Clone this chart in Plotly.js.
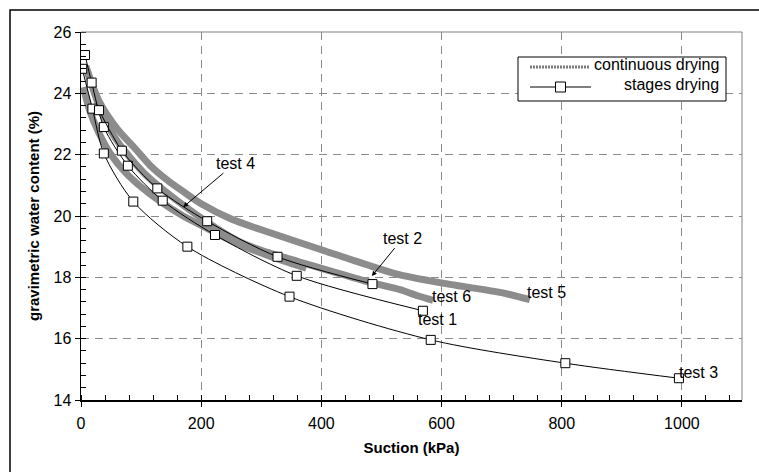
<!DOCTYPE html>
<html>
<head>
<meta charset="utf-8">
<script src="https://cdn.plot.ly/plotly-3.0.1.min.js"></script>
<style>
  html, body { margin: 0; padding: 0; background: #fff; }
  #chart { width: 759px; height: 472px; }
</style>
</head>
<body>
<div id="chart"></div>
<script>
// ---- data ----
// stage drying tests (thin black lines with square markers)
const test1X = [6.7, 17.7, 38, 78, 136, 223, 359, 569];
const test1Y = [25.25, 24.35, 22.9, 21.64, 20.5, 19.38, 18.05, 16.91];
const test2X = [30, 68, 127, 210, 327, 485];
const test2Y = [23.45, 22.13, 20.9, 19.83, 18.67, 17.78];
const test3X = [2, 19, 38, 87, 177, 347, 582, 806, 995];
const test3Y = [24.8, 23.5, 22.04, 20.47, 19.0, 17.37, 15.96, 15.2, 14.71];
// continuous drying tests (thick gray bands)
const test4X = [4, 15, 30, 50, 75, 100, 130, 170, 210, 260, 320, 375];
const test4Y = [24.2, 23.4, 22.7, 22.0, 21.4, 20.95, 20.5, 20.0, 19.6, 19.1, 18.65, 18.3];
const test5X = [8, 30, 60, 90, 115, 145, 170, 200, 250, 300, 400, 485, 531, 614, 700, 747];
const test5Y = [24.9, 23.75, 22.85, 22.2, 21.65, 21.15, 20.8, 20.4, 19.9, 19.55, 18.9, 18.35, 18.08, 17.77, 17.5, 17.27];
const test6X = [8, 30, 55, 80, 110, 150, 210, 260, 300, 364, 420, 485, 531, 560, 586];
const test6Y = [24.85, 23.6, 22.6, 21.95, 21.3, 20.65, 19.8, 19.2, 18.88, 18.5, 18.18, 17.82, 17.6, 17.4, 17.25];

const xTicks = [0, 200, 400, 600, 800, 1000];
const yTicks = [14, 16, 18, 20, 22, 24, 26];
const legendLabels = ["continuous drying", "stages drying"];
const xTitle = "Suction (kPa)";
const yTitle = "gravimetric water content (%)";

// ---- styles ----
const FONT = "Arial, 'Liberation Sans', sans-serif";
const bandColor = "#8c8c8c";

function band(x, y, name) {
  return { x: x, y: y, name: name, type: "scatter", mode: "lines",
    line: { color: bandColor, width: 7, shape: "spline", smoothing: 0.8 },
    showlegend: false, hoverinfo: "skip" };
}
function stage(x, y, name) {
  return { x: x, y: y, name: name, type: "scatter", mode: "lines+markers",
    line: { color: "#000", width: 1, shape: "spline", smoothing: 0.8 },
    marker: { symbol: "square", size: 9, color: "#fff", line: { color: "#000", width: 1 } },
    showlegend: false, hoverinfo: "skip" };
}

const traces = [
  band(test4X, test4Y, "test 4"),
  band(test6X, test6Y, "test 6"),
  band(test5X, test5Y, "test 5"),
  stage(test3X, test3Y, "test 3"),
  stage(test1X, test1Y, "test 1"),
  stage(test2X, test2Y, "test 2"),
  // empty trace so the overlay axes (inside half of the crossing major ticks) are drawn
  { x: [], y: [], xaxis: "x2", yaxis: "y2", type: "scatter", mode: "markers", showlegend: false, hoverinfo: "skip" }
];

const labelFont = { family: FONT, size: 16, color: "#000" };
const annotations = [
  { x: 170, y: 20.29, ax: 52, ay: -44, text: "test 4", showarrow: true,
    arrowhead: 2, arrowsize: 1, arrowwidth: 1, arrowcolor: "#000", font: labelFont },
  { x: 484, y: 18.04, ax: 31, ay: -38, text: "test 2", showarrow: true,
    arrowhead: 2, arrowsize: 1, arrowwidth: 1, arrowcolor: "#000", font: labelFont },
  { x: 617, y: 17.36, text: "test 6", showarrow: false, font: labelFont },
  { x: 775, y: 17.49, text: "test 5", showarrow: false, font: labelFont },
  { x: 594, y: 16.64, text: "test 1", showarrow: false, font: labelFont },
  { x: 1027, y: 14.91, text: "test 3", showarrow: false, font: labelFont },
  // legend texts (right aligned)
  { xref: "paper", yref: "paper", x: 0.968, y: 0.912, xanchor: "right", yanchor: "middle",
    text: legendLabels[0], showarrow: false, font: labelFont },
  { xref: "paper", yref: "paper", x: 0.968, y: 0.858, xanchor: "right", yanchor: "middle",
    text: legendLabels[1], showarrow: false, font: labelFont }
];

// paper coordinate helpers for legend box (plot area: x 81..742, y 32..400)
const W = 759, H = 472, L = 81, R = 742, T = 32, B = 400;
const px = v => (v - L) / (R - L);
const py = v => (B - v) / (B - T);

const shapes = [
  // outer frame
  { type: "rect", xref: "paper", yref: "paper", x0: px(10), x1: px(800), y0: py(520), y1: py(10),
    line: { color: "#000", width: 1.5 }, fillcolor: "rgba(0,0,0,0)", layer: "below" },
  // plot frame top / right (gray)
  { type: "line", xref: "paper", yref: "paper", x0: 0, x1: 1, y0: 1, y1: 1, line: { color: "#808080", width: 1 } },
  { type: "line", xref: "paper", yref: "paper", x0: 1, x1: 1, y0: 0, y1: 1, line: { color: "#808080", width: 1 } },
  // legend box
  { type: "rect", xref: "paper", yref: "paper", x0: px(518), x1: px(726), y0: py(101), y1: py(57),
    line: { color: "#000", width: 1 }, fillcolor: "#fff" },
  // legend samples
  { type: "line", xref: "paper", yref: "paper", x0: px(530), x1: px(590), y0: py(67), y1: py(67),
    line: { color: "#7a7a7a", width: 3, dash: "2px,1px" } },
  { type: "line", xref: "paper", yref: "paper", x0: px(530), x1: px(591), y0: py(87), y1: py(87),
    line: { color: "#000", width: 1 } },
  { type: "rect", xref: "paper", yref: "paper", x0: px(555.5), x1: px(565.5), y0: py(92), y1: py(82),
    line: { color: "#000", width: 1 }, fillcolor: "#fff" }
];

const layout = {
  width: W, height: H,
  margin: { l: L, r: W - R, t: T, b: H - B, pad: 0 },
  paper_bgcolor: "#fff", plot_bgcolor: "#fff",
  font: { family: FONT, size: 15, color: "#000" },
  showlegend: false,
  xaxis: {
    range: [0, 1100], tickvals: xTicks, ticktext: xTicks.map(String),
    showgrid: true, gridcolor: "#8a8a8a", griddash: "8px,6px", gridwidth: 1,
    zeroline: false, showline: true, linecolor: "#000", linewidth: 1.5,
    ticks: "outside", ticklen: 5, tickcolor: "#000", ticklabelstandoff: 3,
    minor: { dtick: 40, ticks: "inside", ticklen: 5, tickcolor: "#000", showgrid: false },
    tickfont: { family: FONT, size: 16 },
    title: { text: "<b>" + xTitle + "</b>", font: { family: FONT, size: 15 }, standoff: 12 }
  },
  yaxis: {
    range: [14, 26], tickvals: yTicks, ticktext: yTicks.map(String),
    showgrid: true, gridcolor: "#8a8a8a", griddash: "8px,6px", gridwidth: 1,
    zeroline: false, showline: true, linecolor: "#000", linewidth: 1.5,
    ticks: "outside", ticklen: 5, tickcolor: "#000",
    minor: { dtick: 0.4, ticks: "inside", ticklen: 5, tickcolor: "#000", showgrid: false },
    tickfont: { family: FONT, size: 16 },
    title: { text: "<b>" + yTitle + "</b>", font: { family: FONT, size: 15 }, standoff: 10 }
  },
  xaxis2: {
    overlaying: "x", matches: "x", range: [0, 1100], tickvals: xTicks,
    showticklabels: false, showgrid: false, zeroline: false, showline: false,
    ticks: "inside", ticklen: 5, tickcolor: "#000", side: "bottom", anchor: "y2"
  },
  yaxis2: {
    overlaying: "y", matches: "y", range: [14, 26], tickvals: yTicks,
    showticklabels: false, showgrid: false, zeroline: false, showline: false,
    ticks: "inside", ticklen: 5, tickcolor: "#000", side: "left", anchor: "x2"
  },
  shapes: shapes,
  annotations: annotations
};

Plotly.newPlot("chart", traces, layout, { displayModeBar: false, staticPlot: true });
</script>
</body>
</html>
